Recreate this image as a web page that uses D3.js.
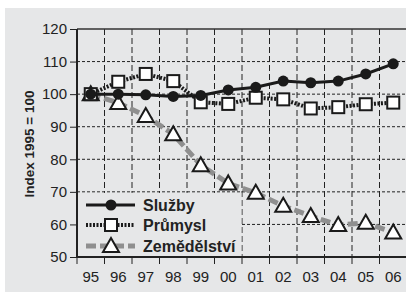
<!DOCTYPE html>
<html>
<head>
<meta charset="utf-8">
<script src="https://cdn.jsdelivr.net/npm/d3@7"></script>
<style>
  body { margin: 0; background: #fff; }
  svg { display: block; font-family: "Liberation Sans", Arial, sans-serif; }
</style>
</head>
<body>
<div id="chart"></div>
<script>
const width = 406;
const height = 292;

const years = ["95", "96", "97", "98", "99", "00", "01", "02", "03", "04", "05", "06"];
const sluzby = [100, 100, 99.8, 99.3, 99.6, 101.3, 102.1, 104.0, 103.5, 104.0, 106.2, 109.3];
const prumysl = [100, 103.8, 106.2, 104.0, 97.5, 97.0, 98.9, 98.4, 95.6, 96.0, 96.9, 97.4];
const zemedelstvi = [100, 97.3, 93.3, 87.7, 78.2, 72.6, 69.7, 65.7, 62.6, 59.8, 60.5, 57.5];
const yTicks = [50, 60, 70, 80, 90, 100, 110, 120];

const series = [
  { name: "Služby", values: sluzby, color: "#1a1a1a", width: 3, dash: null, marker: "circle" },
  { name: "Průmysl", values: prumysl, color: "#1a1a1a", width: 4, dash: "2,1.5", marker: "square" },
  { name: "Zemědělství", values: zemedelstvi, color: "#8f8f8f", width: 5, dash: "10,4", marker: "triangle" }
];

const margin = { left: 77, top: 29, right: 0, bottom: 35 };

let x = d3.scaleBand()
  .domain(years)
  .range([margin.left, 407]);
let y = d3.scaleLinear()
  .domain([50, 120])
  .range([height - margin.bottom, margin.top]);

let svg = d3.select("#chart")
  .append("svg")
  .attr("width", width)
  .attr("height", height)
  .attr("viewBox", [0, 0, width, height]);

svg.append("rect")
  .attr("x", 5).attr("y", 8)
  .attr("width", width - 5).attr("height", height - 8)
  .attr("fill", "#e6e7e8");

// grid
svg.append("g")
  .selectAll("line")
  .data(yTicks.slice(1, -1))
  .join("line")
    .attr("x1", margin.left).attr("x2", width)
    .attr("y1", d => y(d)).attr("y2", d => y(d))
    .attr("stroke", "#222").attr("stroke-width", 1)
    .attr("stroke-dasharray", "3,2");
svg.append("g")
  .selectAll("line")
  .data(years.slice(1))
  .join("line")
    .attr("x1", d => x(d)).attr("x2", d => x(d))
    .attr("y1", y(120)).attr("y2", y(50))
    .attr("stroke", "#222").attr("stroke-width", 1)
    .attr("stroke-dasharray", "6,3");

// legend background covers grid
svg.append("rect")
  .attr("x", margin.left + 1).attr("y", y(70) + 1)
  .attr("width", x("01") - margin.left - 1.5).attr("height", y(50) - y(70) - 1)
  .attr("fill", "#e6e7e8");

// top line
svg.append("line")
  .attr("x1", margin.left).attr("x2", width)
  .attr("y1", y(120)).attr("y2", y(120))
  .attr("stroke", "#333").attr("stroke-width", 1.5);

// axes
let yAxis = svg.append("g")
  .attr("transform", `translate(${margin.left},0)`)
  .call(d3.axisLeft(y).tickValues(yTicks).tickSize(7).tickPadding(3));
let xAxis = svg.append("g")
  .attr("transform", `translate(0,${y(50)})`)
  .call(d3.axisBottom(x).tickSize(0).tickPadding(14));
svg.append("g")
  .selectAll("line")
  .data(years)
  .join("line")
    .attr("x1", d => x(d)).attr("x2", d => x(d))
    .attr("y1", y(50)).attr("y2", y(50) + 7)
    .attr("stroke", "#222").attr("stroke-width", 1);

[yAxis, xAxis].forEach(a => {
  a.select(".domain").attr("stroke", "#222").attr("stroke-width", 2);
  a.selectAll(".tick line").attr("stroke", "#222");
  a.selectAll("text")
    .attr("font-size", 15)
    .attr("fill", "#222")
    .attr("font-family", "Liberation Sans, Arial, sans-serif");
});
yAxis.select(".domain").attr("d", `M0,${y(120)}V${y(50)}`);
xAxis.select(".domain").attr("d", `M${margin.left},0H${width}`);

svg.append("text")
  .attr("transform", `translate(34,${(y(120) + y(50)) / 2 + 1}) rotate(-90)`)
  .attr("text-anchor", "middle")
  .attr("font-size", 13.5)
  .attr("font-weight", "bold")
  .attr("fill", "#222")
  .text("Index 1995 = 100");

// markers
function drawMarker(g, type, cx, cy) {
  if (type === "circle") {
    g.append("circle").attr("cx", cx).attr("cy", cy).attr("r", 5.5)
      .attr("fill", "#1a1a1a");
  } else if (type === "square") {
    g.append("rect").attr("x", cx - 6).attr("y", cy - 6)
      .attr("width", 12).attr("height", 12)
      .attr("fill", "#fff").attr("stroke", "#1a1a1a").attr("stroke-width", 2);
  } else {
    g.append("path")
      .attr("d", `M${cx},${cy - 8}L${cx + 8},${cy + 6}L${cx - 8},${cy + 6}Z`)
      .attr("fill", "#fff").attr("stroke", "#1a1a1a").attr("stroke-width", 2)
      .attr("stroke-linejoin", "miter");
  }
}

let line = d3.line()
  .x((d, i) => x(years[i]) + x.bandwidth() / 2)
  .y(d => y(d));

// draw in reverse order so Služby stays on top
series.slice().reverse().forEach(s => {
  let g = svg.append("g");
  g.append("path")
    .attr("d", line(s.values))
    .attr("fill", "none")
    .attr("stroke", s.color)
    .attr("stroke-width", s.width)
    .attr("stroke-dasharray", s.dash);
  s.values.forEach((v, i) => drawMarker(g, s.marker, x(years[i]) + x.bandwidth() / 2, y(v)));
});

// legend
const legendY = [205, 225, 246];
series.forEach((s, i) => {
  let g = svg.append("g");
  let ly = legendY[i];
  g.append("line")
    .attr("x1", 86).attr("x2", 135)
    .attr("y1", ly).attr("y2", ly)
    .attr("stroke", s.color)
    .attr("stroke-width", s.width)
    .attr("stroke-dasharray", s.dash);
  drawMarker(g, s.marker, 111, ly);
  g.append("text")
    .attr("x", 143).attr("y", ly + 6)
    .attr("font-size", 16)
    .attr("font-weight", "bold")
    .attr("fill", "#222")
    .text(s.name);
});
</script>
</body>
</html>
